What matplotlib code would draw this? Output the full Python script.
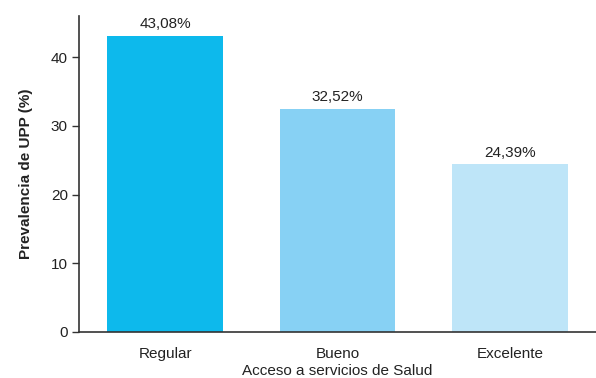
import matplotlib
matplotlib.use('Agg')
from matplotlib import pyplot as plt

categories = ['Regular', 'Bueno', 'Excelente']
values = [43.08, 32.52, 24.39]
labels = ['43,08%', '32,52%', '24,39%']
colors = ['#0DB9EC', '#87D1F4', '#BEE5F8']

plt.rcParams['font.family'] = ['Liberation Sans Narrow', 'Liberation Sans', 'DejaVu Sans']

fig = plt.figure(figsize=(5.96, 3.78), dpi=100)
ax = fig.add_axes([0.1326, 0.1217, 0.8674, 0.836])

x = range(len(categories))
bars = ax.bar(x, values, width=0.67, color=colors)
for b, lab in zip(bars, labels):
    ax.text(b.get_x() + b.get_width() / 2, b.get_height() + 0.7, lab,
            ha='center', va='bottom', fontsize=11, color='#222222')

ax.set_xlim(-0.5, 2.5)
ax.set_ylim(0, 46)
ax.set_yticks([0, 10, 20, 30, 40])
ax.set_xticks(list(x))
ax.set_xticklabels(categories)
ax.tick_params(axis='x', length=0, labelsize=11, pad=11, colors='#222222')
ax.tick_params(axis='y', length=5, width=1, labelsize=11, pad=3, colors='#222222', color='#333333')

for s in ['top', 'right']:
    ax.spines[s].set_visible(False)
for s in ['left', 'bottom']:
    ax.spines[s].set_color('#333333')
    ax.spines[s].set_linewidth(1.2)

ax.set_xlabel('Acceso a servicios de Salud', fontsize=11, labelpad=2, color='#222222')
ax.set_ylabel('Prevalencia de UPP (%)', fontsize=11, fontweight='bold', labelpad=13, color='#222222')

fig.savefig('out.png', dpi=100)
